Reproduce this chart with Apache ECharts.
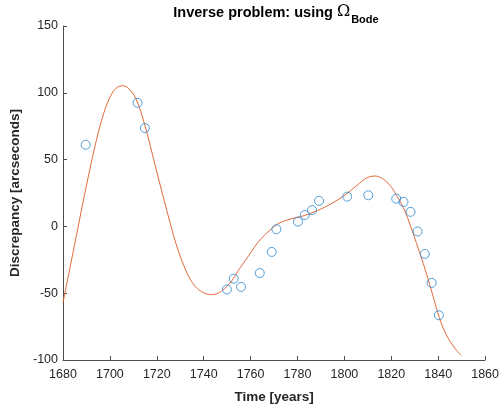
<!DOCTYPE html>
<html>
<head>
<meta charset="utf-8">
<script src="https://cdn.jsdelivr.net/npm/echarts@6/dist/echarts.min.js"></script>
<style>
  html, body { margin: 0; padding: 0; background: #fff; }
  #chart { width: 502px; height: 409px; }
</style>
</head>
<body>
<div id="chart"></div>
<script>
// Observed discrepancies (year, arcseconds)
const obsYears = [1689.7, 1711.8, 1714.9, 1749.9, 1752.8, 1755.9, 1763.9, 1769.0, 1771.0,
  1780.2, 1783.1, 1786.2, 1789.2, 1801.2, 1810.2, 1822.1, 1825.2, 1828.2, 1831.2,
  1834.3, 1837.2, 1840.3];
const obsValues = [61.1, 92.5, 73.6, -47.2, -39.1, -45.3, -34.9, -19.1, -2.1,
  3.6, 8.5, 12.2, 19.1, 22.3, 23.3, 20.8, 18.3, 10.9, -3.8,
  -20.6, -42.3, -66.5];

// Model curve from the inverse solution
const fitYears = [1680, 1682.8, 1685.7, 1688.5, 1691.3, 1694.1, 1696.9, 1699.7, 1702.6,
  1705.6, 1708.9, 1711.7, 1714.5, 1717.3, 1720.1, 1723.0, 1725.8, 1728.6, 1731.4,
  1734.2, 1737.0, 1740.6, 1743.7, 1747.6, 1751.8, 1755.4, 1758.9, 1761.7, 1764.5,
  1767.4, 1771.6, 1775.8, 1779.5, 1782.9, 1788.5, 1794.1, 1799.8, 1805.4, 1809.6,
  1813.1, 1816.7, 1820.2, 1822.3, 1825.1, 1827.9, 1830.8, 1833.6, 1836.4, 1839.2,
  1842.0, 1844.8, 1847.5, 1849.8];
const fitValues = [-57, -32.5, -7.0, 17.9, 41.4, 63.5, 82.0, 95.5, 103.4,
  105.3, 101.6, 93.1, 78.3, 59.8, 40.1, 20.4, 1.9, -15.3, -28.8,
  -39.4, -46.1, -50.2, -51.0, -48.5, -41.1, -31.3, -22.7, -15.3, -9.2,
  -4.2, 1.9, 4.9, 6.6, 8.1, 11.8, 16.7, 22.9, 30.8, 36.4,
  37.7, 35.2, 29.0, 22.9, 14.3, 1.9, -12.9, -27.6, -43.6, -60.9,
  -75.6, -85.4, -92.0, -96.5];

const xTicks = { min: 1680, max: 1860, step: 20 };
const yTicks = { min: -100, max: 150, step: 50 };

const axisColor = '#4d4d4d';
const textColor = '#262626';
const fontFamily = '"Liberation Sans", Arial, Helvetica, sans-serif';

const chart = echarts.init(document.getElementById('chart'), null, { renderer: 'canvas' });

chart.setOption({
  animation: false,
  backgroundColor: '#ffffff',
  title: {
    text: '{main|Inverse problem: using }{omega|Ω}{sub|Bode}',
    left: 271,
    textAlign: 'center',
    top: -4,
    textStyle: {
      rich: {
        main: { fontFamily, fontSize: 14.5, fontWeight: 'bold', color: '#000', verticalAlign: 'bottom', lineHeight: 19 },
        omega: { fontFamily: '"DejaVu Serif", serif', fontSize: 16, fontWeight: 'normal', color: '#000', verticalAlign: 'bottom', lineHeight: 19 },
        sub: { fontFamily, fontSize: 11, fontWeight: 'bold', color: '#000', verticalAlign: 'bottom', padding: [0, 0, -5, 1], lineHeight: 19 }
      }
    }
  },
  grid: { left: 63, right: 13, top: 26, bottom: 45, containLabel: false },
  xAxis: {
    type: 'value',
    min: xTicks.min, max: xTicks.max, interval: xTicks.step,
    name: 'Time [years]',
    nameLocation: 'middle',
    nameGap: 30,
    nameTextStyle: { fontFamily, fontSize: 13.5, fontWeight: 'bold', color: textColor },
    axisLine: { show: true, onZero: false, lineStyle: { color: axisColor, width: 1 } },
    axisTick: { show: true, inside: true, length: 4, lineStyle: { color: axisColor } },
    axisLabel: { fontFamily, fontSize: 12.5, color: textColor, margin: 8, showMaxLabel: true, showMinLabel: true,
      formatter: v => String(v) },
    splitLine: { show: false }
  },
  yAxis: {
    type: 'value',
    min: yTicks.min, max: yTicks.max, interval: yTicks.step,
    name: 'Discrepancy [arcseconds]',
    nameLocation: 'middle',
    nameGap: 32,
    nameRotate: 90,
    nameTextStyle: { fontFamily, fontSize: 13.5, fontWeight: 'bold', color: textColor },
    axisLine: { show: true, onZero: false, lineStyle: { color: axisColor, width: 1 } },
    axisTick: { show: true, inside: true, length: 4, lineStyle: { color: axisColor } },
    axisLabel: { fontFamily, fontSize: 12.5, color: textColor, margin: 5, formatter: v => String(v) },
    splitLine: { show: false }
  },
  series: [
    {
      type: 'line',
      data: fitYears.map((x, i) => [x, fitValues[i]]),
      smooth: 0.35,
      showSymbol: false,
      lineStyle: { color: '#E06A3A', width: 1 },
      z: 2
    },
    {
      type: 'scatter',
      data: obsYears.map((x, i) => [x, obsValues[i]]),
      symbol: 'circle',
      symbolSize: 9,
      itemStyle: { color: 'rgba(255,255,255,0)', borderColor: '#2A86CC', borderWidth: 1 },
      z: 3
    }
  ]
});
</script>
</body>
</html>
